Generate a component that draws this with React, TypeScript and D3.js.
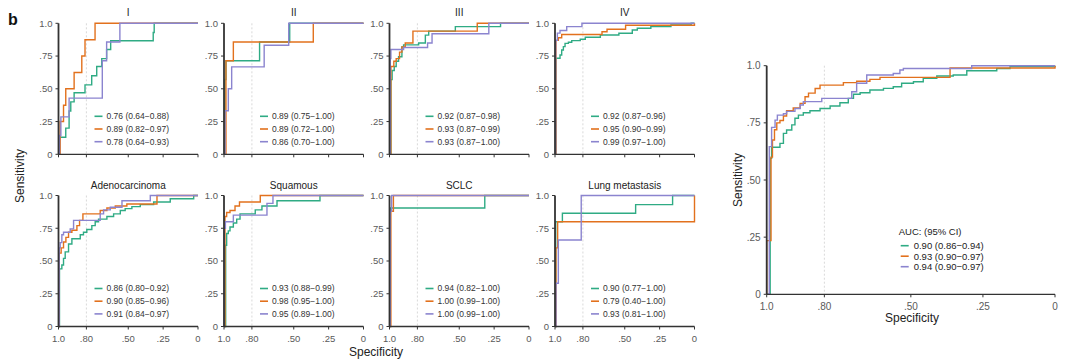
import React from "react";
import * as d3 from "d3";

// ROC points as [specificity, sensitivity]; drawn with a step-before curve
// (vertical move first, then horizontal run to the next specificity)

const panelTitles = ["I", "II", "III", "IV", "Adenocarcinoma", "Squamous", "SCLC", "Lung metastasis"];

const aucLabels = [
  ["0.76 (0.64\u22120.88)", "0.89 (0.82\u22120.97)", "0.78 (0.64\u22120.93)"],
  ["0.89 (0.75\u22121.00)", "0.89 (0.72\u22121.00)", "0.86 (0.70\u22121.00)"],
  ["0.92 (0.87\u22120.98)", "0.93 (0.87\u22120.99)", "0.93 (0.87\u22121.00)"],
  ["0.92 (0.87\u22120.96)", "0.95 (0.90\u22120.99)", "0.99 (0.97\u22121.00)"],
  ["0.86 (0.80\u22120.92)", "0.90 (0.85\u22120.96)", "0.91 (0.84\u22120.97)"],
  ["0.93 (0.88\u22120.99)", "0.98 (0.95\u22121.00)", "0.95 (0.89\u22121.00)"],
  ["0.94 (0.82\u22121.00)", "1.00 (0.99\u22121.00)", "1.00 (0.99\u22121.00)"],
  ["0.90 (0.77\u22121.00)", "0.79 (0.40\u22121.00)", "0.93 (0.81\u22121.00)"],
];

const overallAuc = ["0.90 (0.86\u22120.94)", "0.93 (0.90\u22120.97)", "0.94 (0.90\u22120.97)"];

const rocI = [
  [[1, 0], [0.993, 0], [0.948, 0.13], [0.924, 0.2], [0.912, 0.33], [0.888, 0.4], [0.81, 0.47], [0.762, 0.53], [0.726, 0.6], [0.69, 0.67], [0.655, 0.73], [0.626, 0.8], [0.321, 0.867], [0.314, 0.93], [0, 1]],
  [[1, 0], [0.988, 0], [0.964, 0.25], [0.948, 0.375], [0.888, 0.5], [0.833, 0.625], [0.81, 0.75], [0.738, 0.875], [0, 1]],
  [[1, 0], [0.993, 0], [0.983, 0.143], [0.924, 0.286], [0.686, 0.429], [0.655, 0.714], [0.56, 0.857], [0, 1]],
];

const rocII = [
  [[1, 0], [0.993, 0], [0.986, 0.571], [0.745, 0.714], [0.529, 0.857], [0, 1]],
  [[1, 0], [0.986, 0], [0.933, 0.714], [0.36, 0.857], [0, 1]],
  [[1, 0], [0.993, 0], [0.969, 0.333], [0.945, 0.5], [0.712, 0.667], [0.536, 0.833], [0, 1]],
];

const rocIII = [
  [[1, 0], [0.99, 0], [0.981, 0.57], [0.966, 0.64], [0.952, 0.67], [0.935, 0.71], [0.911, 0.745], [0.899, 0.82], [0.791, 0.835], [0.743, 0.85], [0.719, 0.91], [0.528, 0.94], [0.204, 0.975], [0, 1]],
  [[1, 0], [0.99, 0], [0.969, 0.67], [0.952, 0.71], [0.928, 0.73], [0.911, 0.78], [0.887, 0.82], [0.832, 0.85], [0.371, 0.94], [0, 1]],
  [[1, 0], [0.995, 0], [0.99, 0.73], [0.899, 0.8], [0.727, 0.815], [0.695, 0.85], [0.288, 0.92], [0, 1]],
];

const rocIV = [
  [[1, 0], [0.993, 0], [0.964, 0.733], [0.952, 0.758], [0.94, 0.796], [0.928, 0.822], [0.904, 0.847], [0.88, 0.855], [0.819, 0.868], [0.783, 0.878], [0.675, 0.893], [0.542, 0.911], [0.446, 0.924], [0.41, 0.949], [0.313, 0.962], [0.169, 0.975], [0.024, 0.987], [0, 1]],
  [[1, 0], [0.993, 0], [0.976, 0.87], [0.952, 0.89], [0.663, 0.915], [0.627, 0.935], [0.494, 0.955], [0, 0.985], [0, 1]],
  [[1, 0], [0.995, 0], [0.983, 0.87], [0.964, 0.925], [0.916, 0.945], [0.807, 0.975], [0, 1]],
];

const rocAdeno = [
  [[1, 0], [0.993, 0], [0.976, 0.44], [0.964, 0.47], [0.952, 0.52], [0.928, 0.57], [0.904, 0.63], [0.844, 0.67], [0.821, 0.7], [0.797, 0.72], [0.761, 0.74], [0.737, 0.77], [0.713, 0.8], [0.653, 0.82], [0.605, 0.84], [0.557, 0.86], [0.522, 0.885], [0.474, 0.9], [0.414, 0.915], [0.318, 0.93], [0.199, 0.95], [0.031, 0.975], [0, 1]],
  [[1, 0], [0.995, 0], [0.981, 0.56], [0.964, 0.6], [0.947, 0.645], [0.928, 0.68], [0.904, 0.72], [0.868, 0.735], [0.849, 0.77], [0.825, 0.81], [0.701, 0.86], [0.653, 0.885], [0.593, 0.905], [0.51, 0.92], [0.294, 0.935], [0, 1]],
  [[1, 0], [0.995, 0], [0.988, 0.6], [0.976, 0.64], [0.964, 0.7], [0.916, 0.72], [0.892, 0.745], [0.701, 0.81], [0.677, 0.86], [0.629, 0.89], [0.545, 0.91], [0.342, 0.96], [0, 1]],
];

const rocSquamous = [
  [[1, 0], [0.988, 0], [0.981, 0.62], [0.969, 0.71], [0.957, 0.73], [0.933, 0.76], [0.909, 0.79], [0.885, 0.82], [0.776, 0.86], [0.728, 0.89], [0.62, 0.92], [0.312, 0.96], [0, 1]],
  [[1, 0], [0.993, 0], [0.981, 0.84], [0.957, 0.87], [0.921, 0.885], [0.889, 0.92], [0.74, 0.95], [0, 1]],
  [[1, 0], [0.998, 0], [0.99, 0.75], [0.933, 0.8], [0.692, 0.85], [0.649, 0.94], [0, 1]],
];

const rocSCLC = [
  [[1, 0], [0.995, 0], [0.317, 0.905], [0, 1]],
  [[1, 0], [0.99, 0], [0.972, 0.88], [0, 1]],
  [[1, 0], [0.995, 0], [0.985, 0.88], [0, 1]],
];

const rocMeta = [
  [[1, 0], [0.995, 0], [0.947, 0.8], [0.422, 0.865], [0.157, 0.93], [0, 1]],
  [[1, 0], [0.993, 0], [0.981, 0.6], [0, 0.8], [0, 1]],
  [[1, 0], [0.993, 0], [0.976, 0.33], [0.812, 0.66], [0, 1]],
];

const rocOverall = [
  [[1, 0], [0.988, 0], [0.983, 0.595], [0.954, 0.643], [0.942, 0.66], [0.931, 0.704], [0.913, 0.719], [0.902, 0.741], [0.89, 0.77], [0.873, 0.784], [0.85, 0.794], [0.815, 0.803], [0.78, 0.813], [0.746, 0.824], [0.717, 0.838], [0.699, 0.857], [0.676, 0.875], [0.642, 0.882], [0.595, 0.894], [0.561, 0.901], [0.532, 0.908], [0.491, 0.923], [0.457, 0.93], [0.41, 0.945], [0.353, 0.955], [0.306, 0.959], [0.202, 0.978], [0.156, 0.988], [0, 0.996], [0, 1]],
  [[1, 0], [0.985, 0.235], [0.98, 0.6], [0.973, 0.675], [0.965, 0.72], [0.954, 0.75], [0.942, 0.76], [0.931, 0.78], [0.908, 0.803], [0.884, 0.815], [0.867, 0.835], [0.855, 0.864], [0.832, 0.88], [0.815, 0.9], [0.734, 0.915], [0.688, 0.926], [0.642, 0.932], [0.607, 0.94], [0.364, 0.949], [0, 0.99], [0, 1]],
  [[1, 0], [0.991, 0], [0.983, 0.646], [0.971, 0.73], [0.963, 0.762], [0.942, 0.784], [0.931, 0.79], [0.902, 0.8], [0.884, 0.813], [0.873, 0.828], [0.809, 0.843], [0.705, 0.857], [0.688, 0.886], [0.653, 0.923], [0.561, 0.959], [0.538, 0.966], [0.526, 0.981], [0.289, 0.988], [0, 1]],
];

const panelCurves = [rocI, rocII, rocIII, rocIV, rocAdeno, rocSquamous, rocSCLC, rocMeta];

const yTicks = [0, 0.25, 0.5, 0.75, 1];
const yTickLabels = ["0", ".25", ".50", ".75", "1.0"];
const xTicks = [1, 0.8, 0.5, 0.25, 0];
const xTickLabels = ["1.0", ".80", ".50", ".25", "0"];

const COLORS = ["#2fab84", "#e2711d", "#8b84cf"];
const FONT = "'Liberation Sans', Arial, sans-serif";

function RocPanel({ x0, y0, w, h, curves, labels, title, showXLabels, big }) {
  const x = d3.scaleLinear().domain([1, 0]).range([x0, x0 + w]);
  const y = d3.scaleLinear().domain([0, 1]).range([y0 + h, y0]);
  const line = d3.line().x(d => x(d[0])).y(d => y(d[1])).curve(d3.curveStepBefore);
  const tickFs = big ? 10 : 9.5;

  return (
    <g>
      {title && (
        <text x={x0 + w / 2} y={y0 - 7} textAnchor="middle" fontSize={10} fill="#222">{title}</text>
      )}
      <line x1={x(0.8)} x2={x(0.8)} y1={y0} y2={y0 + h} stroke="#cfcfcf" strokeWidth={0.8} strokeDasharray="2,2" />
      {curves.map((c, i) => (
        <path key={i} d={line(c)} fill="none" stroke={COLORS[i]} strokeWidth={1.4} />
      ))}
      {/* y axis */}
      <line x1={x0} x2={x0} y1={y0} y2={y0 + h} stroke="#333" strokeWidth={1.8} />
      {yTicks.map((t, i) => (
        <g key={i}>
          <line x1={x0 - 3} x2={x0} y1={y(t)} y2={y(t)} stroke="#333" strokeWidth={1} />
          <text x={x0 - 6} y={y(t)} dy="0.35em" textAnchor="end" fontSize={tickFs} fill="#5a5a5a">{yTickLabels[i]}</text>
        </g>
      ))}
      {/* x axis */}
      <line x1={x0} x2={x0 + w} y1={y0 + h} y2={y0 + h} stroke="#333" strokeWidth={1.3} />
      {xTicks.map((t, i) => (
        <g key={i}>
          <line x1={x(t)} x2={x(t)} y1={y0 + h} y2={y0 + h + 3} stroke="#333" strokeWidth={1} />
          {showXLabels && (
            <text x={x(t)} y={y0 + h + 12} dy="0.35em" textAnchor="middle" fontSize={tickFs} fill="#5a5a5a">{xTickLabels[i]}</text>
          )}
        </g>
      ))}
      {/* legend */}
      {big ? (
        <g>
          <text x={x0 + 132} y={y0 + 166} dy="0.35em" fontSize={9.5} fill="#222">AUC: (95% CI)</text>
          {labels.map((l, i) => (
            <g key={i}>
              <line x1={x0 + 134} x2={x0 + 142} y1={y0 + 180 + i * 10.5} y2={y0 + 180 + i * 10.5} stroke={COLORS[i]} strokeWidth={1.6} />
              <text x={x0 + 147} y={y0 + 180 + i * 10.5} dy="0.35em" fontSize={9.5} fill="#222">{l}</text>
            </g>
          ))}
        </g>
      ) : (
        labels.map((l, i) => (
          <g key={i}>
            <line x1={x0 + 36} x2={x0 + 44} y1={y0 + 93 + i * 12.7} y2={y0 + 93 + i * 12.7} stroke={COLORS[i]} strokeWidth={1.6} />
            <text x={x0 + 48} y={y0 + 93 + i * 12.7} dy="0.35em" fontSize={8.5} fill="#333">{l}</text>
          </g>
        ))
      )}
    </g>
  );
}

export default function App() {
  const colX = [58.5, 224, 389.5, 555];
  const rowY = [23.3, 195.5];
  const pw = 139.5;
  const ph = 131;

  return (
    <svg width={1080} height={363} style={{ position: "absolute", left: 0, top: 0, background: "#fff" }} fontFamily={FONT}>
      <text x={8} y={25} fontSize={16} fontWeight="bold" fill="#111">b</text>
      {panelCurves.map((curves, i) => (
        <RocPanel
          key={i}
          x0={colX[i % 4]}
          y0={rowY[Math.floor(i / 4)]}
          w={pw}
          h={ph}
          curves={curves}
          labels={aucLabels[i]}
          title={panelTitles[i]}
          showXLabels={i >= 4}
          big={false}
        />
      ))}
      <text transform="translate(24,176) rotate(-90)" textAnchor="middle" fontSize={12} fill="#222">Sensitivity</text>
      <text x={376} y={356} textAnchor="middle" fontSize={12} fill="#222">Specificity</text>

      <RocPanel
        x0={766.7}
        y0={65.7}
        w={288.3}
        h={228.6}
        curves={rocOverall}
        labels={overallAuc}
        title={null}
        showXLabels={true}
        big={true}
      />
      <text transform="translate(742,180) rotate(-90)" textAnchor="middle" fontSize={12} fill="#222">Sensitivity</text>
      <text x={912} y={322} textAnchor="middle" fontSize={12} fill="#222">Specificity</text>
    </svg>
  );
}
